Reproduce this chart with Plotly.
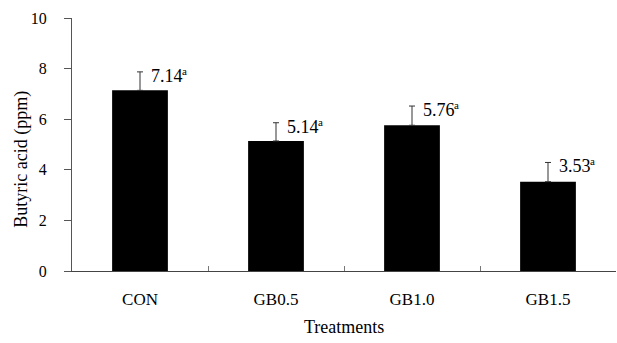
import plotly.graph_objects as go

categories = ["CON", "GB0.5", "GB1.0", "GB1.5"]
values = [7.14, 5.14, 5.76, 3.53]
errors = [0.73, 0.72, 0.76, 0.76]
labels = ["7.14", "5.14", "5.76", "3.53"]
letters = ["a", "a", "a", "a"]
y_ticks = [0, 2, 4, 6, 8, 10]

FONT = "Liberation Serif"

fig = go.Figure()
fig.add_trace(go.Bar(
    x=categories, y=values, width=0.41,
    marker=dict(color="black", line=dict(width=0)),
    error_y=dict(type="data", array=errors, symmetric=False, arrayminus=[0]*4,
                 color="#333333", thickness=1, width=3),
    showlegend=False,
))

for i, c in enumerate(categories):
    fig.add_annotation(
        x=i, y=values[i] + errors[i], xref="x", yref="y",
        text=labels[i],
        showarrow=False, xanchor="left", yanchor="middle",
        xshift=9, yshift=-4,
        font=dict(family=FONT, size=18, color="black"),
    )
    fig.add_annotation(
        x=i, y=values[i] + errors[i], xref="x", yref="y",
        text=letters[i],
        showarrow=False, xanchor="left", yanchor="middle",
        xshift=40, yshift=1,
        font=dict(family=FONT, size=11, color="black"),
    )

fig.add_annotation(
    text="Butyric acid (ppm)", xref="paper", yref="paper",
    x=0, y=0.44, xshift=-50, textangle=-90, showarrow=False,
    xanchor="center", yanchor="middle",
    font=dict(family=FONT, size=18, color="black"),
)
fig.add_annotation(
    text="Treatments", xref="paper", yref="paper",
    x=0.5, y=0, yshift=-56, showarrow=False,
    xanchor="center", yanchor="middle",
    font=dict(family=FONT, size=18, color="black"),
)

fig.update_layout(
    width=617, height=343,
    margin=dict(l=72, r=1, t=18, b=72),
    plot_bgcolor="white", paper_bgcolor="white",
    font=dict(family=FONT, size=17, color="black"),
    bargap=0.59,
)
fig.update_xaxes(
    type="category", showline=True, linecolor="#444444", linewidth=1,
    ticks="inside", tickson="boundaries", ticklen=5, tickcolor="#777777",
    showgrid=False, zeroline=False, ticklabelstandoff=13,
    tickfont=dict(family=FONT, size=17, color="black"),
)
fig.update_yaxes(
    range=[0, 10], tickvals=y_ticks, showline=True, linecolor="#555555",
    linewidth=1, ticks="outside", ticklen=7, tickcolor="#555555",
    showgrid=False, zeroline=False, ticklabelstandoff=14,
    tickfont=dict(family=FONT, size=16, color="black"),
)

fig.write_html("out.html")
